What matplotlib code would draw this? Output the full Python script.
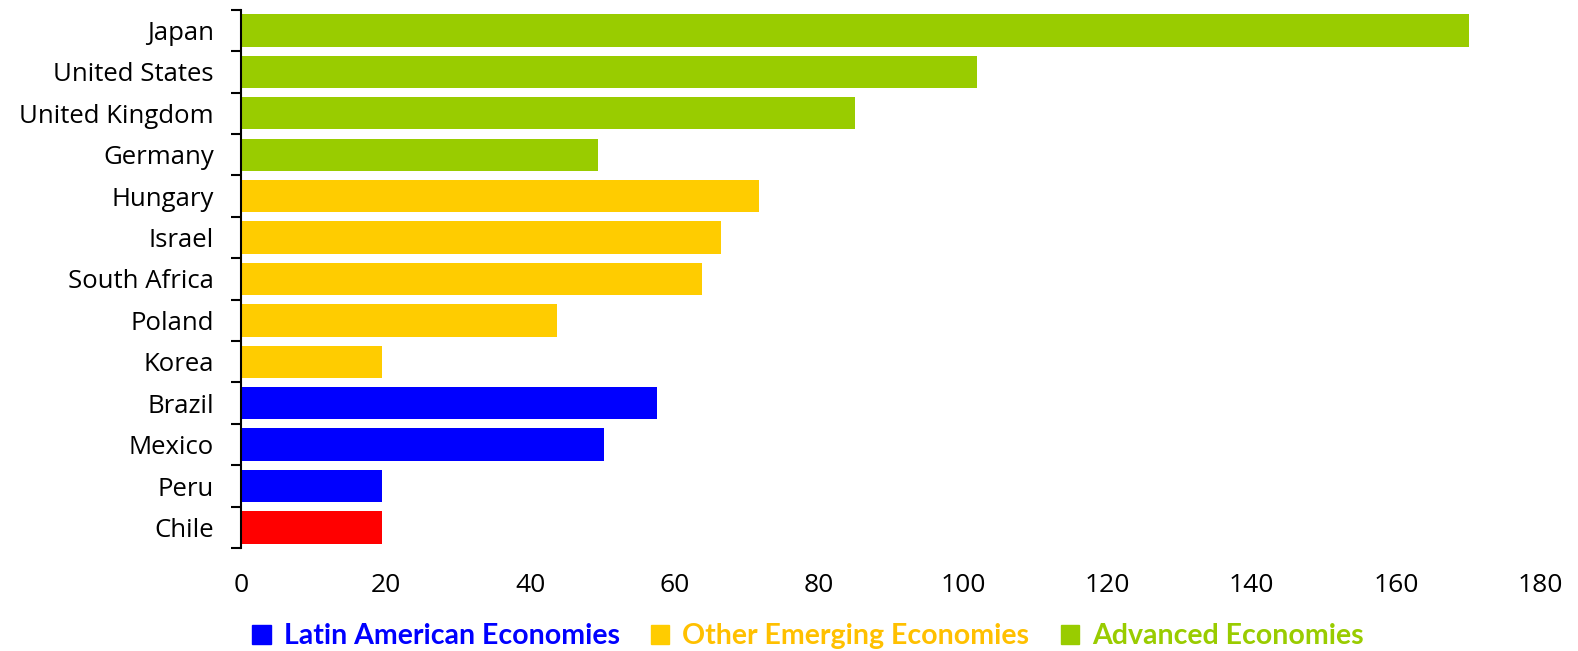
import matplotlib.pyplot as plt
from matplotlib.patches import Patch

countries = ['Japan', 'United States', 'United Kingdom', 'Germany', 'Hungary', 'Israel',
             'South Africa', 'Poland', 'Korea', 'Brazil', 'Mexico', 'Peru', 'Chile']
values = [170.2, 102.0, 85.0, 49.4, 71.7, 66.4, 63.8, 43.7, 19.5, 57.6, 50.2, 19.5, 19.5]
groups = ['adv'] * 4 + ['emg'] * 5 + ['lat'] * 3 + ['chile']

colors = {'adv': '#99CC00', 'emg': '#FFCC00', 'lat': '#0000FF', 'chile': '#FF0000'}
legend_names = ['Latin American Economies', 'Other Emerging Economies', 'Advanced Economies']
legend_keys = ['lat', 'emg', 'adv']

plt.rcParams['font.family'] = ['Open Sans', 'DejaVu Sans']

fig = plt.figure(figsize=(15.78, 6.51), dpi=100)
ax = fig.add_axes([0.153, 0.158, 0.823, 0.827])

n = len(countries)
ypos = [n - 1 - i for i in range(n)]
ax.barh(ypos, values, height=0.78, color=[colors[g] for g in groups])

ax.set_ylim(-0.5, n - 0.5)
ax.set_xlim(0, 180)
ax.set_xticks(range(0, 181, 20))
ax.set_yticks(ypos)
ax.set_yticklabels(countries)
ax.set_yticks([i - 0.5 for i in range(n + 1)], minor=True)
ax.tick_params(axis='y', which='major', length=0, labelsize=18.5, pad=20)
ax.tick_params(axis='y', which='minor', length=7, width=1.5, direction='out')
ax.tick_params(axis='x', length=0, labelsize=19, pad=18)

for s in ['top', 'right', 'bottom']:
    ax.spines[s].set_visible(False)
ax.spines['left'].set_linewidth(1.5)

handles = [Patch(color=colors[k]) for k in legend_keys]
leg = fig.legend(handles, legend_names, loc='lower center', ncol=3, frameon=False,
                 bbox_to_anchor=(0.512, -0.037), handlelength=0.65, handleheight=0.65,
                 columnspacing=1.1, handletextpad=0.45,
                 prop={'family': 'Lato', 'weight': 'bold', 'size': 20.5})
for t, k in zip(leg.get_texts(), legend_keys):
    t.set_color(colors[k] if k != 'emg' else '#FFC000')

fig.savefig('out.png', dpi=100)
